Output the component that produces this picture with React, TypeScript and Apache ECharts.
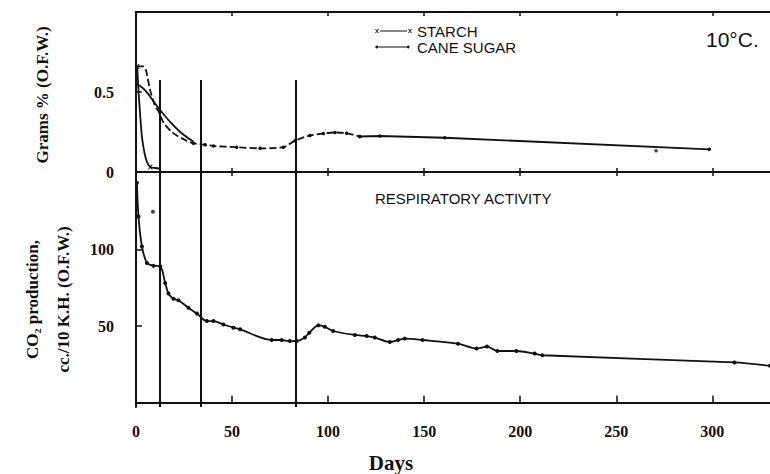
import React, { useEffect, useRef } from "react";
import * as echarts from "echarts";

// ---- Data ----
// Top panel: Grams % (O.F.W.)
const starchDays = [0.6, 1.3, 2.2, 3.1, 4.4, 5.8, 7.4, 10, 12];
const starchValues = [0.66, 0.51, 0.35, 0.22, 0.12, 0.06, 0.032, 0.025, 0.022];
const starchMarked = [true, false, false, false, false, false, true, false, false];

const caneEarlyDays = [0.6, 3.9, 5.1, 7.4, 10, 11.7, 14.3, 18.7, 23.9, 29.9, 36, 40.3, 52.4, 64.6, 76.7, 82.7, 90.5, 97.5, 103.5, 109.6, 116.5];
const caneEarlyValues = [0.66, 0.66, 0.64, 0.51, 0.41, 0.38, 0.31, 0.25, 0.21, 0.18, 0.17, 0.163, 0.155, 0.148, 0.155, 0.195, 0.228, 0.24, 0.247, 0.242, 0.222];
const caneLateDays = [116.5, 126.9, 160.7, 298.4];
const caneLateValues = [0.222, 0.225, 0.214, 0.142];
const caneExtraDays = [270.7];
const caneExtraValues = [0.133];

const smoothDays = [0.5, 4.8, 11.7, 16.9, 23, 29.9];
const smoothValues = [0.55, 0.51, 0.4, 0.325, 0.25, 0.19];

// Bottom panel: CO2 production, cc./10 K.H. (O.F.W.)
const respDays = [0.5, 1.3, 3.1, 5.7, 9.1, 12.6, 15.2, 16.9, 19.5, 22.1, 27.3, 31.7, 36.9, 40.3, 45.5, 50.7, 54.2, 70.6, 75.8, 80.1, 83.6, 87.9, 90.2, 94.9, 98.3, 102.6, 113.9, 120, 124.3, 132.1, 136.4, 139.9, 149.1, 167.6, 177.2, 182.7, 188.1, 198, 207.5, 211.5, 311.5, 330];
const respValues = [144, 121.8, 102.2, 91.4, 89.6, 89.2, 78.3, 71.4, 67.9, 67.0, 62.0, 58.3, 53.3, 53.3, 51.1, 49.0, 47.9, 40.9, 40.9, 40.2, 40.2, 42.5, 45.7, 50.5, 49.6, 46.8, 44.2, 43.5, 42.5, 39.6, 40.9, 41.8, 40.9, 38.5, 35.3, 36.6, 33.7, 33.7, 32.0, 30.9, 26.2, 24];
const respExtraDays = [8.8];
const respExtraValues = [125];

// Vertical reference lines (days)
const vlineDays = [12.5, 33.5, 83];
const vlineTopValue = 0.575;

// Axis ticks
const xTickValues = [0, 50, 100, 150, 200, 250, 300];
const topYTicks = [0, 0.5];
const bottomYTicks = [50, 100];

const INK = "#111";
const SERIF = "'Liberation Serif', 'DejaVu Serif', serif";
const SANS = "'Liberation Sans', 'DejaVu Sans', sans-serif";

const xSymbol = "path://M0,0 L1.2,0 L5,5 L3.8,5 Z M3.8,0 L5,0 L1.2,5 L0,5 Z";
const starchIcon =
  "path://M0,1 L1,1 L4,5 L3,5 Z M3,1 L4,1 L1,5 L0,5 Z M5,2.6 L32,2.6 L32,3.4 L5,3.4 Z M33,1 L34,1 L37,5 L36,5 Z M36,1 L37,1 L34,5 L33,5 Z";
const caneIcon =
  "path://M0,3 L1.8,1.2 L3.6,3 L1.8,4.8 Z M3,2.6 L32,2.6 L32,3.4 L3,3.4 Z M31.4,3 L33.2,1.2 L35,3 L33.2,4.8 Z M0,1 L0.01,1 L0.01,1.01 Z M37,5 L36.99,5 L36.99,4.99 Z";

export default function App() {
  const ref = useRef<HTMLDivElement>(null);

  useEffect(() => {
    if (!ref.current) return;
    const chart = echarts.init(ref.current, null, { renderer: "svg" });

    const axisLine = { show: true, lineStyle: { color: INK, width: 2 } };
    const labelStyle = { fontFamily: SERIF, fontWeight: "bold" as const, fontSize: 16, color: INK };

    const pairs = (xs: number[], ys: number[]) => xs.map((d, i) => [d, ys[i]]);

    const option: any = {
      animation: false,
      backgroundColor: "#fff",
      title: [
        { text: "10°C.", left: 706, top: 29, padding: 0, textStyle: { fontFamily: SANS, fontWeight: "normal", fontSize: 21, color: INK } },
        { text: "RESPIRATORY ACTIVITY", left: 375, top: 191, padding: 0, textStyle: { fontFamily: SANS, fontWeight: "normal", fontSize: 15, color: INK } },
      ],
      legend: {
        orient: "vertical",
        left: 375,
        top: 23,
        padding: 0,
        itemGap: 0,
        itemWidth: 37,
        itemHeight: 6,
        textStyle: { fontFamily: SANS, fontSize: 15, color: INK, lineHeight: 16 },
        data: [
          { name: "STARCH", icon: starchIcon },
          { name: "CANE SUGAR", icon: caneIcon },
        ],
      },
      grid: [
        { left: 136, right: 0, top: 12, height: 160 },
        { left: 136, right: 0, top: 172, height: 236 },
      ],
      xAxis: [
        {
          gridIndex: 0, type: "value", min: 0, max: 330, position: "bottom",
          axisLine, splitLine: { show: false },
          axisTick: { show: true, inside: true, length: 4, customValues: xTickValues.slice(1), lineStyle: { color: INK, width: 1.5 } },
          axisLabel: { show: false },
        },
        {
          gridIndex: 0, type: "value", min: 0, max: 330, position: "top",
          axisLine, splitLine: { show: false },
          axisTick: { show: true, inside: true, length: 4, customValues: xTickValues.slice(1), lineStyle: { color: INK, width: 1.5 } },
          axisLabel: { show: false },
        },
        {
          gridIndex: 1, type: "value", min: 0, max: 330, position: "bottom",
          axisLine, splitLine: { show: false },
          axisTick: { show: true, inside: true, length: 7, customValues: xTickValues.slice(1), lineStyle: { color: INK, width: 1.5 } },
          axisLabel: { ...labelStyle, margin: 16, customValues: xTickValues },
          name: "Days",
          nameLocation: "middle",
          nameGap: 45,
          nameTextStyle: { fontFamily: SERIF, fontWeight: "bold", fontSize: 21, color: INK, padding: [0, 124, 0, 0] },
        },
        {
          gridIndex: 1, type: "value", min: 0, max: 330, position: "top",
          axisLine, splitLine: { show: false },
          axisTick: { show: true, inside: true, length: 4, customValues: xTickValues.slice(1), lineStyle: { color: INK, width: 1.5 } },
          axisLabel: { show: false },
        },
      ],
      yAxis: [
        {
          gridIndex: 0, type: "value", min: 0, max: 1,
          axisLine, splitLine: { show: false },
          axisTick: { show: true, inside: true, length: 6, customValues: [0.5], lineStyle: { color: INK, width: 1.5 } },
          axisLabel: { ...labelStyle, margin: 22, customValues: topYTicks, formatter: (v: number) => (v === 0 ? "0" : String(v)) },
          name: "Grams % (O.F.W.)",
          nameLocation: "middle",
          nameRotate: 90,
          nameGap: 85,
          nameTextStyle: { fontFamily: SERIF, fontWeight: "bold", fontSize: 17, color: INK, padding: [0, 6, 0, 0] },
        },
        {
          gridIndex: 1, type: "value", min: -3, max: 151,
          axisLine, splitLine: { show: false },
          axisTick: { show: true, inside: true, length: 6, customValues: bottomYTicks, lineStyle: { color: INK, width: 1.5 } },
          axisLabel: { ...labelStyle, margin: 22, customValues: bottomYTicks },
          name: "CO₂ production,\ncc./10 K.H. (O.F.W.)",
          nameLocation: "middle",
          nameRotate: 90,
          nameGap: 46,
          nameTextStyle: { fontFamily: SERIF, fontWeight: "bold", fontSize: 17, lineHeight: 31, color: INK, padding: [0, 20, 0, 0] },
        },
      ],
      series: [
        {
          name: "STARCH",
          type: "line",
          xAxisIndex: 0,
          yAxisIndex: 0,
          smooth: 0.3,
          data: starchDays.map((d, i) => ({ value: [d, starchValues[i]], symbol: starchMarked[i] ? xSymbol : "none" })),
          symbolSize: 5,
          itemStyle: { color: INK },
          lineStyle: { color: INK, width: 1.8 },
          markLine: {
            silent: true,
            symbol: ["none", "none"],
            label: { show: false },
            lineStyle: { color: INK, width: 2, type: "solid" },
            data: vlineDays.map((d) => [{ coord: [d, 0] }, { coord: [d, vlineTopValue] }]),
          },
          z: 3,
        },
        {
          name: "CANE SUGAR",
          type: "line",
          xAxisIndex: 0,
          yAxisIndex: 0,
          smooth: 0.3,
          data: caneEarlyDays.map((d, i) => ({ value: [d, caneEarlyValues[i]], symbol: d >= 29 ? "circle" : "none" })),
          symbolSize: 3.5,
          itemStyle: { color: INK },
          lineStyle: { color: INK, width: 1.8, type: [7, 3] },
        },
        {
          name: "CANE SUGAR",
          type: "line",
          xAxisIndex: 0,
          yAxisIndex: 0,
          data: pairs(caneLateDays, caneLateValues),
          symbol: "circle",
          symbolSize: 3.5,
          itemStyle: { color: INK },
          lineStyle: { color: INK, width: 1.8 },
        },
        {
          name: "CANE SUGAR",
          type: "scatter",
          xAxisIndex: 0,
          yAxisIndex: 0,
          data: pairs(caneExtraDays, caneExtraValues),
          symbolSize: 3.5,
          itemStyle: { color: INK },
        },
        {
          name: "Sugar (fitted)",
          type: "line",
          xAxisIndex: 0,
          yAxisIndex: 0,
          smooth: 0.4,
          data: pairs(smoothDays, smoothValues),
          symbol: "none",
          lineStyle: { color: INK, width: 1.8 },
        },
        {
          name: "Respiratory activity",
          type: "line",
          xAxisIndex: 2,
          yAxisIndex: 1,
          smooth: 0.3,
          data: pairs(respDays, respValues),
          symbol: "circle",
          symbolSize: 4,
          showAllSymbol: true,
          itemStyle: { color: INK },
          lineStyle: { color: INK, width: 1.8 },
          markLine: {
            silent: true,
            symbol: ["none", "none"],
            label: { show: false },
            lineStyle: { color: INK, width: 2, type: "solid" },
            data: vlineDays.map((d) => ({ xAxis: d })),
          },
        },
        {
          name: "Respiratory activity (outlier)",
          type: "scatter",
          xAxisIndex: 2,
          yAxisIndex: 1,
          data: pairs(respExtraDays, respExtraValues),
          symbolSize: 4,
          itemStyle: { color: INK },
        },
      ],
    };

    chart.setOption(option);
    return () => chart.dispose();
  }, []);

  return (
    <div
      ref={ref}
      style={{ position: "fixed", left: 0, top: 0, width: 770, height: 474, background: "#fff" }}
    />
  );
}
